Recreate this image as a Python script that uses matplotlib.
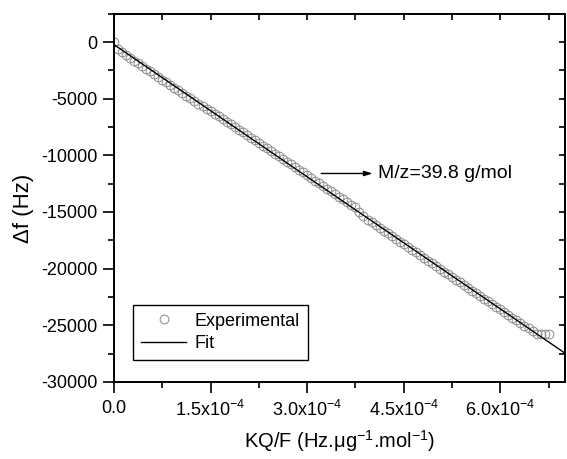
import matplotlib
matplotlib.use("Agg")
import matplotlib.pyplot as plt
from matplotlib.ticker import MultipleLocator, FixedLocator, NullFormatter
import numpy as np

plt.rcParams['font.family'] = ['Liberation Sans', 'DejaVu Sans']
plt.rcParams['mathtext.fontset'] = 'custom'
plt.rcParams['mathtext.rm'] = 'Liberation Sans'
plt.rcParams['mathtext.it'] = 'Liberation Sans:italic'
plt.rcParams['mathtext.default'] = 'regular'
plt.rcParams['axes.unicode_minus'] = False

# ---------------- data ----------------
X_SCALE = 1e-4
kq_f = [0.000, 0.062, 0.125, 0.188, 0.250, 0.312, 0.375, 0.438,
        0.500, 0.562, 0.625, 0.688, 0.750, 0.812, 0.875, 0.938,
        1.000, 1.062, 1.125, 1.188, 1.250, 1.312, 1.375, 1.438,
        1.500, 1.562, 1.625, 1.688, 1.750, 1.812, 1.875, 1.938,
        2.000, 2.062, 2.125, 2.188, 2.250, 2.312, 2.375, 2.438,
        2.500, 2.562, 2.625, 2.688, 2.750, 2.812, 2.875, 2.938,
        3.000, 3.062, 3.125, 3.188, 3.250, 3.312, 3.375, 3.438,
        3.500, 3.562, 3.625, 3.688, 3.750, 3.812, 3.875, 3.938,
        4.000, 4.062, 4.125, 4.188, 4.250, 4.312, 4.375, 4.438,
        4.500, 4.562, 4.625, 4.688, 4.750, 4.812, 4.875, 4.938,
        5.000, 5.062, 5.125, 5.188, 5.250, 5.312, 5.375, 5.438,
        5.500, 5.562, 5.625, 5.688, 5.750, 5.812, 5.875, 5.938,
        6.000, 6.062, 6.125, 6.188, 6.250, 6.312, 6.375, 6.438,
        6.500, 6.562, 6.625, 6.688, 6.750]
delta_f = [0, -600, -874, -1136, -1378, -1630, -1862, -2104,
           -2346, -2589, -2831, -3063, -3305, -3547, -3789, -4021,
           -4263, -4495, -4727, -4959, -5191, -5423, -5650, -5877,
           -6109, -6337, -6564, -6796, -7028, -7260, -7497, -7729,
           -7966, -8198, -8435, -8672, -8904, -9141, -9378, -9615,
           -9852, -10089, -10327, -10564, -10801, -11038, -11275, -11512,
           -11749, -11986, -12223, -12460, -12697, -12934, -13171, -13408,
           -13645, -13882, -14120, -14357, -14594, -14976, -15388, -15670,
           -15922, -16164, -16406, -16648, -16890, -17132, -17369, -17611,
           -17853, -18090, -18333, -18575, -18817, -19054, -19296, -19538,
           -19775, -20017, -20259, -20496, -20738, -20975, -21217, -21454,
           -21696, -21933, -22175, -22413, -22655, -22892, -23134, -23371,
           -23608, -23850, -24087, -24324, -24566, -24803, -25040, -25282,
           -25524, -25740, -25750, -25750, -25750]

fit_intercept = -220.0
fit_slope = -3.89e7
fit_range = [0.0, 7.0]

x_ticks = [0.0, 1.5, 3.0, 4.5, 6.0]
x_tick_labels = ['0.0', r'1.5x10$^{-4}$', r'3.0x10$^{-4}$', r'4.5x10$^{-4}$', r'6.0x10$^{-4}$']
y_ticks = [0, -5000, -10000, -15000, -20000, -25000, -30000]

annotation_text = 'M/z=39.8 g/mol'

# ---------------- plot ----------------
fig = plt.figure(figsize=(5.67, 4.59), dpi=100)
ax = fig.add_axes([0.201, 0.168, 0.795, 0.802])

x = np.array(kq_f) * X_SCALE
ax.plot(x, delta_f, linestyle='none', marker='o', markersize=6.3,
        markerfacecolor='none', markeredgecolor='#8a8a8a', markeredgewidth=0.7,
        label='Experimental', zorder=2)

fx = np.array(fit_range) * X_SCALE
ax.plot(fx, fit_intercept + fit_slope * fx, color='black', linewidth=1.0,
        label='Fit', zorder=3)

ax.set_xlim(0, 7.0e-4)
ax.set_ylim(-30000, 2500)

ax.xaxis.set_major_locator(FixedLocator(np.array(x_ticks) * X_SCALE))
ax.set_xticklabels(x_tick_labels)
ax.xaxis.set_minor_locator(MultipleLocator(0.75e-4))
ax.yaxis.set_major_locator(FixedLocator(y_ticks))
ax.yaxis.set_minor_locator(MultipleLocator(2500))

ax.tick_params(which='both', direction='out', labelsize=13, width=1.2, pad=4)
ax.tick_params(which='major', length=8)
ax.tick_params(which='minor', length=4)
ax.tick_params(axis='x', pad=5)

for side in ['left', 'right', 'top', 'bottom']:
    ax.spines[side].set_linewidth(1.4)

secx = ax.secondary_xaxis('top')
secx.xaxis.set_major_locator(FixedLocator(np.array(x_ticks) * X_SCALE))
secx.xaxis.set_minor_locator(MultipleLocator(0.75e-4))
secx.xaxis.set_major_formatter(NullFormatter())
secx.tick_params(which='both', direction='in', length=4, width=1.2)
secx.spines['top'].set_linewidth(1.4)

secy = ax.secondary_yaxis('right')
secy.yaxis.set_major_locator(FixedLocator(y_ticks))
secy.yaxis.set_minor_locator(MultipleLocator(2500))
secy.yaxis.set_major_formatter(NullFormatter())
secy.tick_params(which='both', direction='in', length=4, width=1.2)
secy.spines['right'].set_linewidth(1.4)

ax.set_xlabel('KQ/F (Hz.μg$^{-1}$.mol$^{-1}$)', fontsize=14.5, labelpad=6)
ax.set_ylabel('Δf (Hz)', fontsize=16, va='center')
ax.yaxis.set_label_coords(-0.2, 0.47)

ax.annotate('', xy=(4.02e-4, -11600), xytext=(3.22e-4, -11600),
            arrowprops=dict(arrowstyle='-|>,head_length=0.5,head_width=0.15',
                            color='black', lw=1.0, shrinkA=0, shrinkB=0))
ax.text(4.1e-4, -11600, annotation_text, fontsize=14, va='center', ha='left')

leg = ax.legend(loc='lower left', bbox_to_anchor=(0.042, 0.059), borderaxespad=0,
                fontsize=13, frameon=True, fancybox=False, edgecolor='black',
                framealpha=1, handlelength=2.5, handletextpad=0.45,
                borderpad=0.45, labelspacing=0.3, numpoints=1)
leg.get_frame().set_linewidth(1.0)

fig.savefig('out.png', dpi=100)
